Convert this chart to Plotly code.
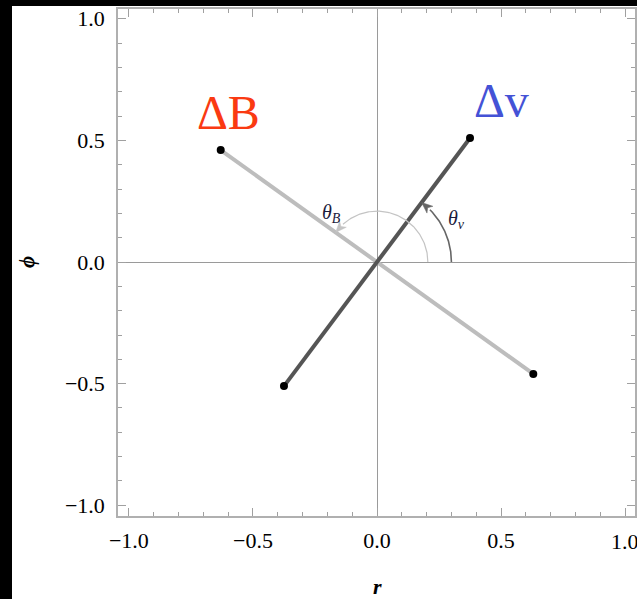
import numpy as np
import plotly.graph_objects as go

# Fluctuation vectors in the (r, phi) plane: each drawn from -v to +v
vec_names = ["ΔB", "Δv"]
vec_r = [-0.63, 0.375]
vec_phi = [0.46, 0.51]
vec_colors = ["#bdbdbd", "#555555"]
label_colors = ["#fa3a12", "#4452d6"]
label_r = [-0.60, 0.50]
label_phi = [0.615, 0.665]

# Angle arcs measured from the r axis
arc_names = ["θ<sub>B</sub>", "θ<sub>v</sub>"]
arc_radius = [0.205, 0.30]
arc_colors = ["#c4c4c4", "#666666"]
arc_widths = [1.2, 1.6]
arc_label_r = [-0.185, 0.32]
arc_label_phi = [0.20, 0.175]

tick_vals = [-1.0, -0.5, 0.0, 0.5, 1.0]
x_range = [-1.044, 1.04]
y_range = [-1.044, 1.04]

W, H = 637, 599
ML, MR, MT, MB = 118, 2, 9, 83
PW, PH = W - ML - MR, H - MT - MB
sx = PW / (x_range[1] - x_range[0])
sy = PH / (y_range[1] - y_range[0])
TICK_FONT = dict(family="Liberation Serif", size=22, color="black")

fig = go.Figure()

# Vector segments with endpoint dots
for r, p, c in zip(vec_r, vec_phi, vec_colors):
    fig.add_trace(go.Scatter(x=[-r, r], y=[-p, p], mode="lines",
                             line=dict(color=c, width=4), hoverinfo="skip"))
for r, p in zip(vec_r, vec_phi):
    fig.add_trace(go.Scatter(x=[-r, r], y=[-p, p], mode="markers",
                             marker=dict(color="black", size=8), hoverinfo="skip"))

# Arcs with arrowheads, drawn circular in screen space
for rad, r, p, c, w in zip(arc_radius, vec_r, vec_phi, arc_colors, arc_widths):
    ang = np.arctan2(p * sy, r * sx)
    R = rad * sx  # radius in pixels
    head = 11.0
    half = 4.5
    # arrow tip sits on the vector line; arc stops at the arrow base
    base_ang = ang - head / R
    t = np.linspace(0, base_ang, 120)
    fig.add_trace(go.Scatter(x=R * np.cos(t) / sx, y=R * np.sin(t) / sy, mode="lines",
                             line=dict(color=c, width=w), hoverinfo="skip"))
    tip = np.array([R * np.cos(ang), R * np.sin(ang)])
    base = np.array([R * np.cos(base_ang), R * np.sin(base_ang)])
    d = tip - base
    d /= np.linalg.norm(d)
    n = np.array([-d[1], d[0]])
    pts = [tip, base + n * half, base + d * 3.0, base - n * half, tip]
    fig.add_trace(go.Scatter(x=[q[0] / sx for q in pts], y=[q[1] / sy for q in pts],
                             mode="lines", fill="toself", fillcolor=c,
                             line=dict(color=c, width=0.5), hoverinfo="skip"))

annotations = []
for name, x, y, c in zip(vec_names, label_r, label_phi, label_colors):
    annotations.append(dict(x=x, y=y, xref="x", yref="y", text=name, showarrow=False,
                            font=dict(family="Liberation Serif", size=48, color=c)))
for name, x, y in zip(arc_names, arc_label_r, arc_label_phi):
    annotations.append(dict(x=x, y=y, xref="x", yref="y", text="<i>" + name + "</i>",
                            showarrow=False,
                            font=dict(family="Liberation Serif", size=20, color="#1b1b3c")))
# The last r tick label runs past the page edge, so it is placed by hand
annotations.append(dict(x=tick_vals[-1], y=(H - MB - 541) / PH, xref="x", yref="paper",
                        text=f"{tick_vals[-1]:.1f}", showarrow=False,
                        xanchor="center", yanchor="middle", font=TICK_FONT))
# Axis titles
annotations.append(dict(x=0.0, y=(H - MB - 586) / PH, xref="x", yref="paper",
                        text="<i><b>r</b></i>", showarrow=False,
                        xanchor="center", yanchor="middle",
                        font=dict(family="Liberation Serif", size=22, color="black")))
annotations.append(dict(x=(27 - ML) / PW, y=0.0, xref="paper", yref="y",
                        text="<i><b>ϕ</b></i>", showarrow=False, textangle=-90,
                        xanchor="center", yanchor="middle",
                        font=dict(family="Liberation Serif", size=21, color="black")))

axis_common = dict(
    tickvals=tick_vals, tickformat=".1f", ticks="inside", ticklen=8, tickwidth=1,
    tickcolor="#a0a0a0", showline=True, linecolor="#b0b0b0", linewidth=1.5,
    mirror="ticks", showgrid=False, zeroline=True, zerolinecolor="#9a9a9a",
    zerolinewidth=1, automargin=False,
    minor=dict(dtick=0.1, ticks="inside", ticklen=4.5, tickcolor="#a0a0a0",
               tickwidth=1, showgrid=False),
    tickfont=TICK_FONT,
)

fig.update_layout(
    width=W, height=H,
    margin=dict(l=ML, r=MR, t=MT, b=MB, autoexpand=False),
    paper_bgcolor="black", plot_bgcolor="white",
    showlegend=False,
    xaxis=dict(range=x_range, ticklabelstandoff=4, **axis_common),
    yaxis=dict(range=y_range, ticklabelstandoff=7, **axis_common),
    annotations=annotations,
    shapes=[dict(type="rect", xref="paper", yref="paper", layer="below",
                 x0=(12 - ML) / PW, x1=(W + 5 - ML) / PW,
                 y0=(H - MB - H - 5) / PH, y1=(H - MB - 6) / PH,
                 fillcolor="white", line=dict(width=0))],
)

fig.write_html("out.html")
